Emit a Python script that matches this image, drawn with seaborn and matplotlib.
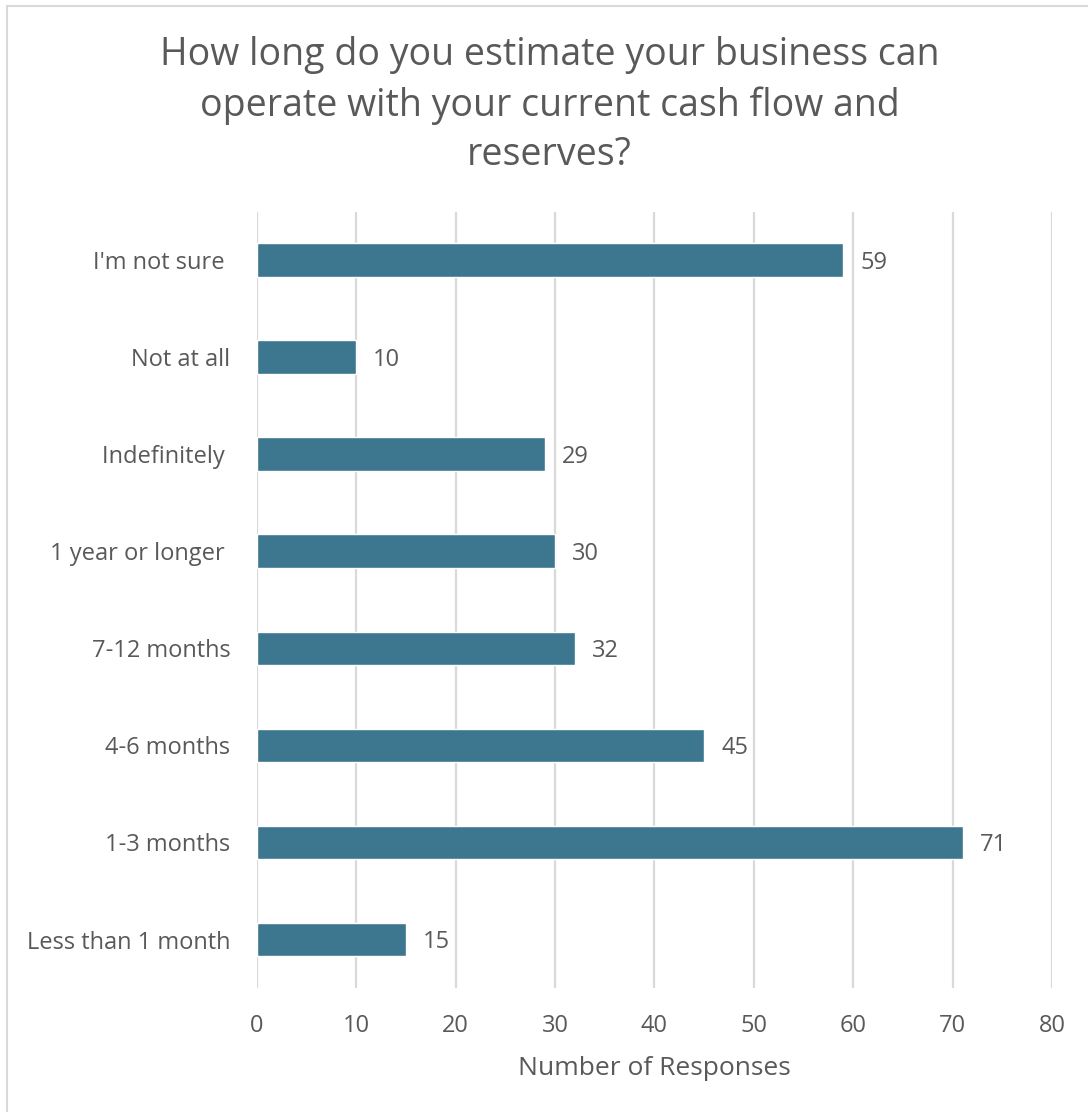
import pandas as pd
import matplotlib.pyplot as plt
import seaborn as sns
from matplotlib.patches import Rectangle

categories = ["I'm not sure ", "Not at all", "Indefinitely ", "1 year or longer ",
              "7-12 months", "4-6 months", "1-3 months", "Less than 1 month"]
responses = [59, 10, 29, 30, 32, 45, 71, 15]
x_ticks = [0, 10, 20, 30, 40, 50, 60, 70, 80]

df = pd.DataFrame({'answer': categories, 'count': responses})

sns.set_style('white')
plt.rcParams['font.family'] = ['Open Sans', 'DejaVu Sans']
text_color = '#595959'
bar_color = '#3C768F'

fig = plt.figure(figsize=(10.88, 11.12), dpi=100)
ax = fig.add_axes([0.2362, 0.1115, 0.7307, 0.6979])

sns.barplot(data=df, x='count', y='answer', color=bar_color, width=0.35,
            saturation=1, ax=ax, zorder=3)

# value labels at bar ends
for i, v in enumerate(responses):
    ax.text(v + 1.7, i + 0.03, str(v), va='center', ha='left', fontsize=17, color=text_color)

ax.set_xlim(0, 80)
ax.set_ylim(len(categories) - 0.5, -0.5)
ax.set_xticks(x_ticks)
ax.xaxis.grid(True, color='#D9D9D9', linewidth=1.6, zorder=0)
ax.yaxis.grid(False)
for s in ax.spines.values():
    s.set_visible(False)
ax.tick_params(axis='both', length=0, labelsize=17, labelcolor=text_color)
ax.tick_params(axis='x', pad=19)
ax.tick_params(axis='y', pad=19)
ax.set_ylabel('')
ax.set_xlabel('Number of Responses', fontsize=19, color=text_color, labelpad=13)

fig.text(0.505, 0.9055, 'How long do you estimate your business can\noperate with your current cash flow and\nreserves?',
         ha='center', va='center', fontsize=27, color=text_color, linespacing=1.41)

fig.patches.append(Rectangle((7 / 1088, -0.01), 1.02, 1 - 6 / 1112 + 0.01,
                             transform=fig.transFigure, fill=False,
                             edgecolor='#D9D9D9', linewidth=1.5))

plt.savefig('out.png', dpi=100)
